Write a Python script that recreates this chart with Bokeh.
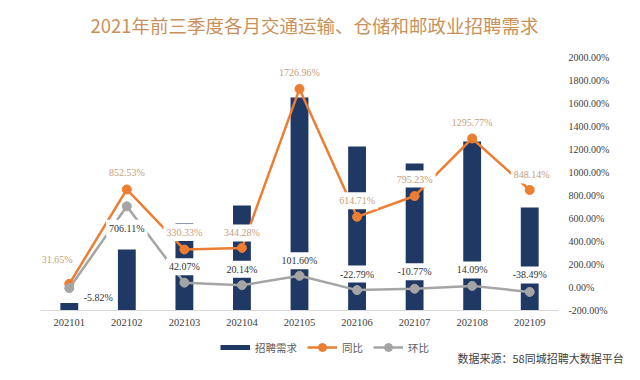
from bokeh.plotting import figure
from bokeh.layouts import column
from bokeh.models import (Range1d, FactorRange, LinearAxis, PrintfTickFormatter,
                          FixedTicker, Legend, LegendItem, Label, ColumnDataSource)
from bokeh.core.properties import value
from bokeh.embed import file_html
from bokeh.resources import INLINE

# ---- data ----
months = ["202101", "202102", "202103", "202104", "202105",
          "202106", "202107", "202108", "202109"]
demand = [65, 530, 757, 913, 1853, 1427, 1279, 1470, 896]          # 招聘需求 (index)
yoy = [31.65, 852.53, 330.33, 344.28, 1726.96, 614.71, 795.23, 1295.77, 848.14]   # 同比 %
mom = [-5.82, 706.11, 42.07, 20.14, 101.60, -22.79, -10.77, 14.09, -38.49]       # 环比 %
pct_ticks = [-200, 0, 200, 400, 600, 800, 1000, 1200, 1400, 1600, 1800, 2000]
title_text = "2021年前三季度各月交通运输、仓储和邮政业招聘需求"
source_text = "数据来源：58同城招聘大数据平台"

# ---- label placement (screen px, +y is down) ----
yoy_dx = [-12, 0, 0, 0, 0, 0, 0, 0, 2]
yoy_dy = [-24, -17, -17, -15, -16, -16, -17, -16, -15]
mom_dx = [29, 0, 0, 0, 0, 0, 0, 0, 0]
mom_dy = [9, 22, -16, -16, -15, -16, -17, -16, -17]

NAVY = "#1f3864"
ORANGE = "#ed7d31"
GRAY = "#a5a5a5"
NAN = float("nan")
W = 632

# ---- title strip ----
p0 = figure(width=W, height=45, output_backend="svg", toolbar_location=None,
            x_range=Range1d(0, 1), y_range=Range1d(0, 1),
            x_axis_location=None, y_axis_location=None, min_border=0, frame_align=False)
p0.grid.visible = False
p0.outline_line_color = None
p0.add_layout(Label(x=314, y=21, x_units="screen", y_units="screen", text=title_text,
                    text_align="center", text_baseline="middle",
                    text_font="Noto Sans CJK SC", text_font_size="18.5px",
                    text_color="#c9915a"))

# ---- main chart ----
p = figure(x_range=FactorRange(*months, range_padding=0),
           y_range=Range1d(-200, 2000),
           width=W, height=290, output_backend="svg", toolbar_location=None,
           y_axis_location=None, frame_align=False,
           min_border_left=40, min_border_right=74, min_border_top=12, min_border_bottom=25)
p.extra_y_ranges = {"demand": Range1d(0, 2200)}

p.grid.visible = False
p.outline_line_color = None
p.background_fill_color = "white"

p.xaxis.axis_line_color = "#d9d9d9"
p.xaxis.major_tick_line_color = None
p.xaxis.minor_tick_line_color = None
p.xaxis.major_tick_out = 0
p.xaxis.major_tick_in = 0
p.xaxis.major_label_text_font = "Liberation Serif"
p.xaxis.major_label_text_font_size = "10.5px"
p.xaxis.major_label_text_color = "#404040"
p.xaxis.major_label_standoff = 8

yr = LinearAxis(ticker=FixedTicker(ticks=pct_ticks),
                formatter=PrintfTickFormatter(format="%.2f%%"),
                axis_line_color=None, major_tick_line_color=None, minor_tick_line_color=None,
                major_tick_out=0, major_tick_in=0,
                major_label_text_font="Liberation Serif", major_label_text_font_size="10px",
                major_label_text_color="#404040", major_label_standoff=10)
p.add_layout(yr, "right")

src = ColumnDataSource(dict(month=months, demand=demand, yoy=yoy, mom=mom,
                            yoy_lbl=[f"{v:.2f}%" for v in yoy],
                            mom_lbl=[f"{v:.2f}%" for v in mom],
                            yoy_dx=yoy_dx, yoy_dy=yoy_dy, mom_dx=mom_dx, mom_dy=mom_dy))

p.vbar(x="month", top="demand", bottom=0, width=0.31, source=src,
       y_range_name="demand", fill_color=NAVY, line_color=None)

p.line(x="month", y="yoy", source=src, line_color=ORANGE, line_width=2.5)
p.scatter(x="month", y="yoy", source=src, size=9, fill_color=ORANGE, line_color=ORANGE)
p.line(x="month", y="mom", source=src, line_color=GRAY, line_width=2.5)
p.scatter(x="month", y="mom", source=src, size=9, fill_color=GRAY, line_color=GRAY)

p.text(x="month", y="yoy", text="yoy_lbl", source=src, x_offset="yoy_dx", y_offset="yoy_dy",
       text_align="center", text_baseline="middle", text_font=value("Liberation Serif"),
       text_font_size="10px", text_color="#c4a07a",
       background_fill_color="white", padding=3)
p.text(x="month", y="mom", text="mom_lbl", source=src, x_offset="mom_dx", y_offset="mom_dy",
       text_align="center", text_baseline="middle", text_font=value("Liberation Serif"),
       text_font_size="10px", text_color="#333333",
       background_fill_color="white", padding=3)

# ---- legend strip below the chart (legend-only glyphs, nothing plotted) ----
p2 = figure(width=W, height=37, output_backend="svg", toolbar_location=None,
            x_range=Range1d(0, 1), y_range=Range1d(0, 1),
            x_axis_location=None, y_axis_location=None, min_border=0, frame_align=False)
p2.grid.visible = False
p2.outline_line_color = None
lb = p2.line(x=[NAN], y=[NAN], line_color=NAVY, line_width=5)
ly = p2.line(x=[NAN], y=[NAN], line_color=ORANGE, line_width=2.5)
sy = p2.scatter(x=[NAN], y=[NAN], fill_color=ORANGE, line_color=ORANGE)
lm = p2.line(x=[NAN], y=[NAN], line_color=GRAY, line_width=2.5)
sm = p2.scatter(x=[NAN], y=[NAN], fill_color=GRAY, line_color=GRAY)

legend = Legend(items=[LegendItem(label="招聘需求", renderers=[lb]),
                       LegendItem(label="同比", renderers=[ly, sy]),
                       LegendItem(label="环比", renderers=[lm, sm])],
                location=(220, 15), orientation="horizontal",
                glyph_width=30, glyph_height=20, label_height=20, label_standoff=5,
                spacing=10, padding=0, margin=0,
                label_text_font="Noto Sans CJK SC", label_text_font_size="10.5px",
                label_text_color="#595959",
                border_line_color=None, background_fill_alpha=0)
p2.add_layout(legend, "center")
p2.add_layout(Label(x=457, y=15, x_units="screen", y_units="screen",
                    text=source_text, text_baseline="middle",
                    text_font="Noto Sans CJK SC", text_font_size="11px", text_color="#404040"))

open("out.html", "w").write(file_html(column(p0, p, p2, spacing=0), INLINE))
